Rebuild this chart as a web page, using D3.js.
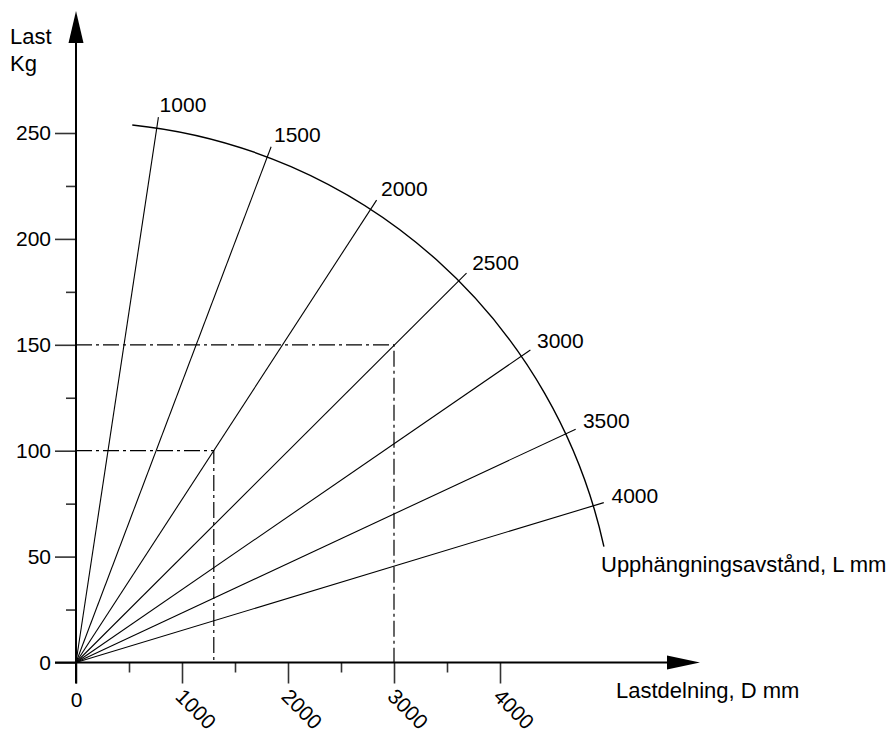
<!DOCTYPE html>
<html>
<head>
<meta charset="utf-8">
<script src="https://cdn.jsdelivr.net/npm/d3@7"></script>
<style>
  body { margin: 0; background: #fff; }
  text { font-family: "Liberation Sans", Arial, sans-serif; fill: #000; }
</style>
</head>
<body>
<script>
// upphängningsavstånd L (mm) and where each L-line meets the arc (D mm, kg)
var spans = [1000, 1500, 2000, 2500, 3000, 3500, 4000];
var spanD = [761, 1799, 2780, 3607, 4195, 4629, 4875];
var spanKg = [252, 238, 214, 180, 144.4, 108.2, 73.9];

// arc end points (D mm, kg)
var arcD = [531, 4981];
var arcKg = [253.8, 54.7];

// worked examples (dash-dot guides)
var exD = [1300, 3000];
var exKg = [100, 150];

var yTicks = [0, 50, 100, 150, 200, 250];
var yMinor = [25, 75, 125, 175, 225];
var xTicks = [0, 1000, 2000, 3000, 4000];
var xMinor = [500, 1500, 2500, 3500];

var W = 891, H = 736;

var svg = d3.select("body").append("svg")
    .attr("width", W)
    .attr("height", H);

var x = d3.scaleLinear().domain([0, 4000]).range([76, 500]);
var y = d3.scaleLinear().domain([0, 250]).range([662.5, 133]);

var ox = x(0), oy = y(0);

// y axis
svg.append("g")
    .attr("transform", "translate(" + ox + ",0)")
    .call(d3.axisLeft(y).tickValues(yTicks).tickSize(21).tickPadding(4))
    .call(function(g) {
      g.select(".domain").remove();
      g.selectAll("line").attr("stroke", "#333").attr("stroke-width", 1.6);
      g.selectAll("text").attr("font-size", 21).attr("font-family", null);
    });

svg.append("g")
    .attr("transform", "translate(" + ox + ",0)")
    .call(d3.axisLeft(y).tickValues(yMinor).tickSize(10).tickFormat(""))
    .call(function(g) {
      g.select(".domain").remove();
      g.selectAll("line").attr("stroke", "#333").attr("stroke-width", 1.6);
    });

// x axis
svg.append("g")
    .attr("transform", "translate(0," + oy + ")")
    .call(d3.axisBottom(x).tickValues(xTicks).tickSize(21).tickFormat(d3.format("d")))
    .call(function(g) {
      g.select(".domain").remove();
      g.selectAll("line").attr("stroke", "#333").attr("stroke-width", 1.6);
      g.selectAll("text")
        .attr("font-size", 21)
        .attr("font-family", null)
        .each(function(d) {
          var t = d3.select(this);
          if (d === 0) {
            t.attr("y", 44.5).attr("dy", null);
          } else {
            t.attr("y", 0).attr("x", 0).attr("dy", "0.35em")
              .attr("text-anchor", "start")
              .attr("transform", "translate(-3,30) rotate(45)");
          }
        });
    });

svg.append("g")
    .attr("transform", "translate(0," + oy + ")")
    .call(d3.axisBottom(x).tickValues(xMinor).tickSize(10).tickFormat(""))
    .call(function(g) {
      g.select(".domain").remove();
      g.selectAll("line").attr("stroke", "#333").attr("stroke-width", 1.6);
    });

// axis lines with arrows
svg.append("line")
    .attr("x1", ox).attr("y1", oy + 21).attr("x2", ox).attr("y2", 43)
    .attr("stroke", "#000").attr("stroke-width", 2);
svg.append("path")
    .attr("d", "M" + ox + ",11L" + (ox - 7.5) + ",43L" + (ox + 7.5) + ",43Z")
    .attr("fill", "#000");

svg.append("line")
    .attr("x1", ox - 21).attr("y1", oy).attr("x2", 667).attr("y2", oy)
    .attr("stroke", "#000").attr("stroke-width", 2);
svg.append("path")
    .attr("d", "M700," + oy + "L667," + (oy - 7) + "L667," + (oy + 7) + "Z")
    .attr("fill", "#000");

// arc
var ax0 = x(arcD[0]) - ox, ay0 = y(arcKg[0]) - oy;
var ax1 = x(arcD[1]) - ox, ay1 = y(arcKg[1]) - oy;
var r = Math.sqrt(ax0 * ax0 + ay0 * ay0);
var p = d3.path();
p.arc(ox, oy, r, Math.atan2(ay0, ax0), Math.atan2(ay1, ax1), false);
svg.append("path")
    .attr("d", p.toString())
    .attr("fill", "none")
    .attr("stroke", "#000")
    .attr("stroke-width", 1.4);

// L lines
spans.forEach(function(L, i) {
  var dx = x(spanD[i]) - ox, dy = y(spanKg[i]) - oy;
  var len = Math.sqrt(dx * dx + dy * dy);
  var ux = dx / len, uy = dy / len;
  var ex = ox + ux * (r + 11), ey = oy + uy * (r + 11);
  svg.append("line")
      .attr("x1", ox).attr("y1", oy).attr("x2", ex).attr("y2", ey)
      .attr("stroke", "#000").attr("stroke-width", 1.1);
  svg.append("text")
      .attr("x", ex + 8 * ux)
      .attr("y", ey + 7 * uy + 2)
      .attr("font-size", 21)
      .text(L);
});

// dash-dot guides
exD.forEach(function(d, i) {
  svg.append("path")
      .attr("d", "M" + ox + "," + y(exKg[i]) + "L" + x(d) + "," + y(exKg[i]) + "L" + x(d) + "," + oy)
      .attr("fill", "none")
      .attr("stroke", "#000")
      .attr("stroke-width", 1.2)
      .attr("stroke-dasharray", "16,4,3,4");
});

// titles
svg.append("text").attr("x", 10).attr("y", 44).attr("font-size", 22).text("Last");
svg.append("text").attr("x", 10).attr("y", 71).attr("font-size", 22).text("Kg");
svg.append("text").attr("x", 616).attr("y", 698).attr("font-size", 22).text("Lastdelning, D mm");
svg.append("text").attr("x", 601).attr("y", 572).attr("font-size", 22).text("Upphängningsavstånd, L mm");
</script>
</body>
</html>
